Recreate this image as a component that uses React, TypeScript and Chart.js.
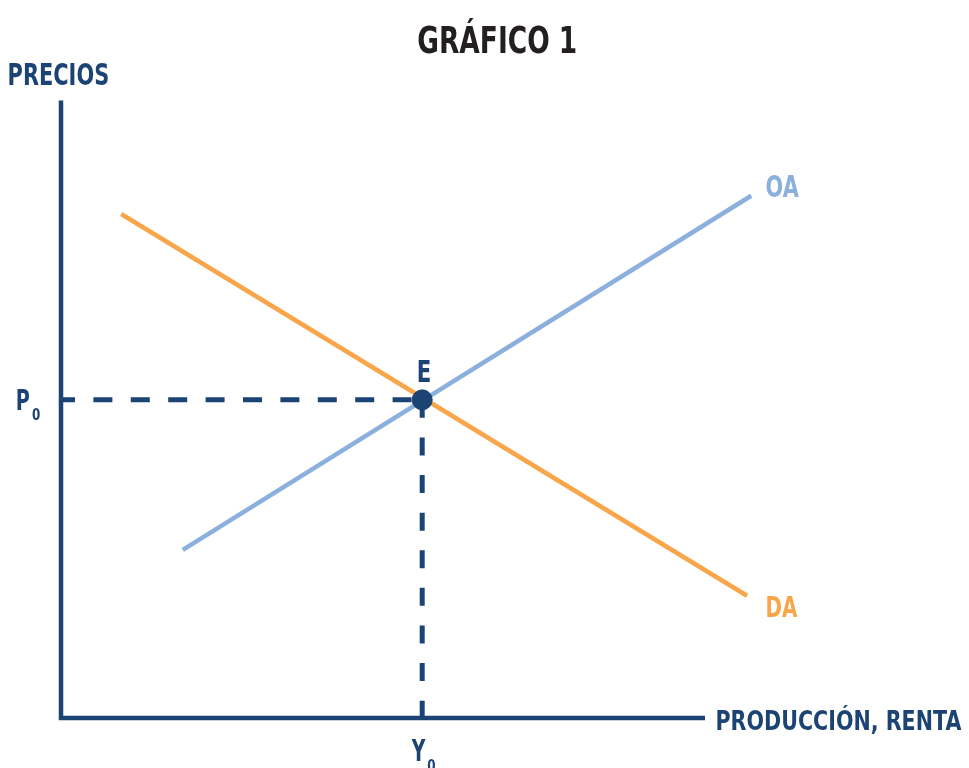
import React, { useEffect, useRef } from "react";
import { Chart, registerables } from "chart.js";

Chart.register(...registerables);

// Data (economic units)
const axisY = [{ x: 0, y: 9.8 }, { x: 0, y: 0 }, { x: 9.2, y: 0 }];
const demandDA = [{ x: 0.86, y: 8.0 }, { x: 9.8, y: 1.94 }];
const supplyOA = [{ x: 1.74, y: 2.67 }, { x: 9.86, y: 8.29 }];
const equilibrium = { x: 5.16, y: 5.05 };
const labels = {
  title: "GRÁFICO 1",
  yAxis: "PRECIOS",
  xAxis: "PRODUCCIÓN, RENTA",
  da: "DA",
  oa: "OA",
  e: "E",
  p: "P",
  y: "Y",
  sub: "0",
};

const NAVY = "#1b4373";
const ORANGE = "#f9a54a";
const BLUE = "#8cb0de";
const DARK = "#231f20";
const FONT = "'DejaVu Sans', sans-serif";
const CAP_RATIO = 0.73;

// draw text left-aligned at baseline, sized by cap height, squeezed to width
function drawFit(ctx: CanvasRenderingContext2D, text: string, left: number, baseline: number, cap: number, width: number, color: string) {
  ctx.save();
  const size = cap / CAP_RATIO;
  ctx.font = `bold ${size}px ${FONT}`;
  ctx.fillStyle = color;
  ctx.textAlign = "left";
  ctx.textBaseline = "alphabetic";
  const m = ctx.measureText(text);
  const w = m.actualBoundingBoxRight + m.actualBoundingBoxLeft;
  const sx = w > 0 ? width / w : 1;
  ctx.translate(left, baseline);
  ctx.scale(sx, 1);
  ctx.fillText(text, m.actualBoundingBoxLeft, 0);
  ctx.restore();
}

const textPlugin = {
  id: "textPlugin",
  afterDraw(chart: any) {
    const ctx = chart.ctx as CanvasRenderingContext2D;
    const xs = chart.scales.x;
    const ys = chart.scales.y;
    const ex = xs.getPixelForValue(equilibrium.x);
    const ey = ys.getPixelForValue(equilibrium.y);
    const x0 = xs.getPixelForValue(0);
    const y0 = ys.getPixelForValue(0);
    const yTop = ys.getPixelForValue(axisY[0].y);
    const xEnd = xs.getPixelForValue(axisY[2].x);
    const oaEnd = supplyOA[supplyOA.length - 1];
    const daEnd = demandDA[demandDA.length - 1];
    const oax = xs.getPixelForValue(oaEnd.x), oay = ys.getPixelForValue(oaEnd.y);
    const dax = xs.getPixelForValue(daEnd.x), day = ys.getPixelForValue(daEnd.y);

    drawFit(ctx, labels.title, 418, 53, 27, 158, DARK);
    drawFit(ctx, labels.yAxis, x0 - 52, yTop - 16, 22, 99, NAVY);
    drawFit(ctx, labels.xAxis, xEnd + 12, y0 + 12, 20, 245, NAVY);
    drawFit(ctx, labels.oa, oax + 15, oay + 1, 22, 33, BLUE);
    drawFit(ctx, labels.da, dax + 20, day + 21, 21, 31, ORANGE);
    drawFit(ctx, labels.e, ex - 4, ey - 18, 22, 12, NAVY);
    drawFit(ctx, labels.p, x0 - 44, ey + 10, 21, 12, NAVY);
    drawFit(ctx, labels.sub, x0 - 29, ey + 20, 12, 8, NAVY);
    drawFit(ctx, labels.y, ex - 11, y0 + 43, 22, 15, NAVY);
    drawFit(ctx, labels.sub, ex + 5, y0 + 53, 12, 8, NAVY);
  },
};

export default function App() {
  const ref = useRef<HTMLCanvasElement>(null);
  useEffect(() => {
    document.body.style.margin = "0";
    const chart = new Chart(ref.current!, {
      type: "scatter",
      data: {
        datasets: [
          { data: [equilibrium], order: 0, pointRadius: 10, pointHoverRadius: 10, pointBackgroundColor: NAVY, pointBorderColor: NAVY, pointBorderWidth: 1, clip: false } as any,
          { data: axisY, order: 1, showLine: true, borderColor: NAVY, borderWidth: 4.5, pointRadius: 0, borderJoinStyle: "miter", clip: false } as any,
          { data: [{ x: 0, y: equilibrium.y }, { x: equilibrium.x, y: equilibrium.y }], order: 2, showLine: true, borderColor: NAVY, borderWidth: 5, borderDash: [19, 18.4], borderDashOffset: 5, pointRadius: 0, clip: false } as any,
          { data: [{ x: equilibrium.x, y: equilibrium.y }, { x: equilibrium.x, y: 0 }], order: 2, showLine: true, borderColor: NAVY, borderWidth: 5, borderDash: [18, 19.6], borderDashOffset: 0, pointRadius: 0, clip: false } as any,
          { data: supplyOA, order: 3, showLine: true, borderColor: BLUE, borderWidth: 4.5, pointRadius: 0, clip: false } as any,
          { data: demandDA, order: 3, showLine: true, borderColor: ORANGE, borderWidth: 4.5, pointRadius: 0, clip: false } as any,
        ],
      },
      options: {
        animation: false,
        responsive: false,
        layout: { padding: { left: 61, right: 208, top: 88, bottom: 50 } },
        scales: {
          x: { type: "linear", min: 0, max: 10, display: false },
          y: { type: "linear", min: 0, max: 10, display: false },
        },
        plugins: { legend: { display: false }, tooltip: { enabled: false }, title: { display: false } },
      },
      plugins: [textPlugin],
    });
    return () => chart.destroy();
  }, []);
  return (
    <div style={{ position: "absolute", left: 0, top: 0, width: 969, height: 768, background: "#fff" }}>
      <canvas ref={ref} width={969} height={768} style={{ width: 969, height: 768 }} />
    </div>
  );
}
